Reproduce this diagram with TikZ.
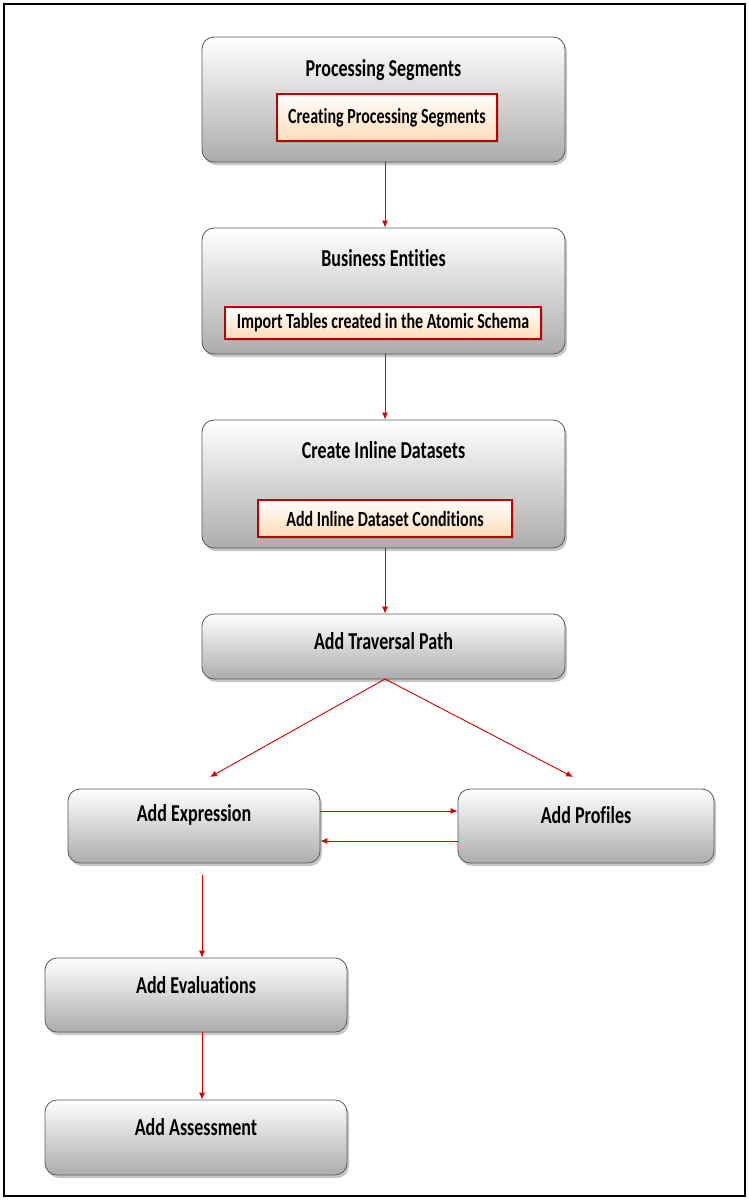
\documentclass[tikz,border=0pt]{standalone}
\usepackage{fontspec}
\usepackage{graphicx}
\setmainfont{Carlito}[Ligatures=NoCommon]
\usetikzlibrary{shadows,arrows.meta}
\newcommand{\vtx}[1]{\scalebox{1}[1.35]{#1}}
\begin{document}
\begin{tikzpicture}[x=1pt,y=-1pt,
  graybox/.style={draw=gray!70!black, line width=0.8pt, rounded corners=12pt, top color=white, bottom color=gray!65, shading angle=0,
    drop shadow={shadow xshift=2pt,shadow yshift=-3pt,opacity=0.45}, inner sep=0pt},
  subbox/.style={draw=red!75!black, line width=1.3pt, top color=white, bottom color=orange!28, 
    drop shadow={shadow xshift=2pt,shadow yshift=-2pt,opacity=0.35}, inner sep=0pt, font=\bfseries\fontsize{16}{18}\selectfont},
  ttl/.style={font=\bfseries\fontsize{18}{20}\selectfont, inner sep=0pt},
  arr/.style={draw=red!85!black, line width=0.9pt, -{Latex[length=7pt,width=6pt]}}]
\useasboundingbox (0,0) rectangle (749,1200);
\draw[line width=1.6pt] (4,4) rectangle (745,1196);
% box 1
\node[graybox, minimum width=363pt, minimum height=125pt] (b1) at (383.5,99.5) {};
\node[ttl] (t1) at (383.5,70) {\vtx{Processing Segments}};
\node[subbox, minimum width=220pt, minimum height=47pt] (s1) at (387,117.5) {\vtx{Creating Processing Segments}};
% box 2
\node[graybox, minimum width=363pt, minimum height=126pt] (b2) at (383.5,291) {};
\node[ttl] (t2) at (383.5,258) {\vtx{Business Entities}};
\node[subbox, minimum width=316pt, minimum height=32pt] (s2) at (383,323) {\vtx{Import Tables created in the Atomic Schema}};
% box 3
\node[graybox, minimum width=363pt, minimum height=128pt] (b3) at (383.5,484) {};
\node[ttl] (t3) at (383.5,450) {\vtx{Create Inline Datasets}};
\node[subbox, minimum width=254pt, minimum height=37pt] (s3) at (385,518.5) {\vtx{Add Inline Dataset Conditions}};
% box 4
\node[graybox, minimum width=363pt, minimum height=65pt] (b4) at (383.5,646.5) {};
\node[ttl] (t4) at (383.5,641) {\vtx{Add Traversal Path}};
% box 5
\node[graybox, minimum width=252pt, minimum height=74pt] (b5) at (194,826) {};
\node[ttl] (t5) at (194,815) {\vtx{Add Expression}};
% box 6
\node[graybox, minimum width=256pt, minimum height=74pt] (b6) at (586,826) {};
\node[ttl] (t6) at (586,815) {\vtx{Add Profiles}};
% box 7
\node[graybox, minimum width=302pt, minimum height=74pt] (b7) at (196,995) {};
\node[ttl] (t7) at (196,985) {\vtx{Add Evaluations}};
% box 8
\node[graybox, minimum width=302pt, minimum height=75pt] (b8) at (196,1137.5) {};
\node[ttl] (t8) at (196,1127) {\vtx{Add Assessment}};
% connectors
\coordinate (c4) at (385,679);
\coordinate (e5) at (210,777);
\coordinate (e6) at (573,777);
\coordinate (st5) at (202,875);
\draw[arr] (b1.south -| c4) -- (b2.north -| c4);
\draw[arr] (b2.south -| c4) -- (b3.north -| c4);
\draw[arr] (b3.south -| c4) -- (b4.north -| c4);
\draw[draw=red!85!black, line width=0.9pt] (c4) -- (b4.south -| c4);
\draw[arr] (c4) -- (e5);
\draw[arr] (c4) -- (e6);
\draw[arr] ([yshift=15pt]b5.east) -- ([yshift=15pt]b6.west);
\draw[arr] ([yshift=-15pt]b6.west) -- ([yshift=-15pt]b5.east);
\draw[arr] (st5) -- (b7.north -| st5);
\draw[arr] (b7.south -| st5) -- (b8.north -| st5);
\end{tikzpicture}
\end{document}
